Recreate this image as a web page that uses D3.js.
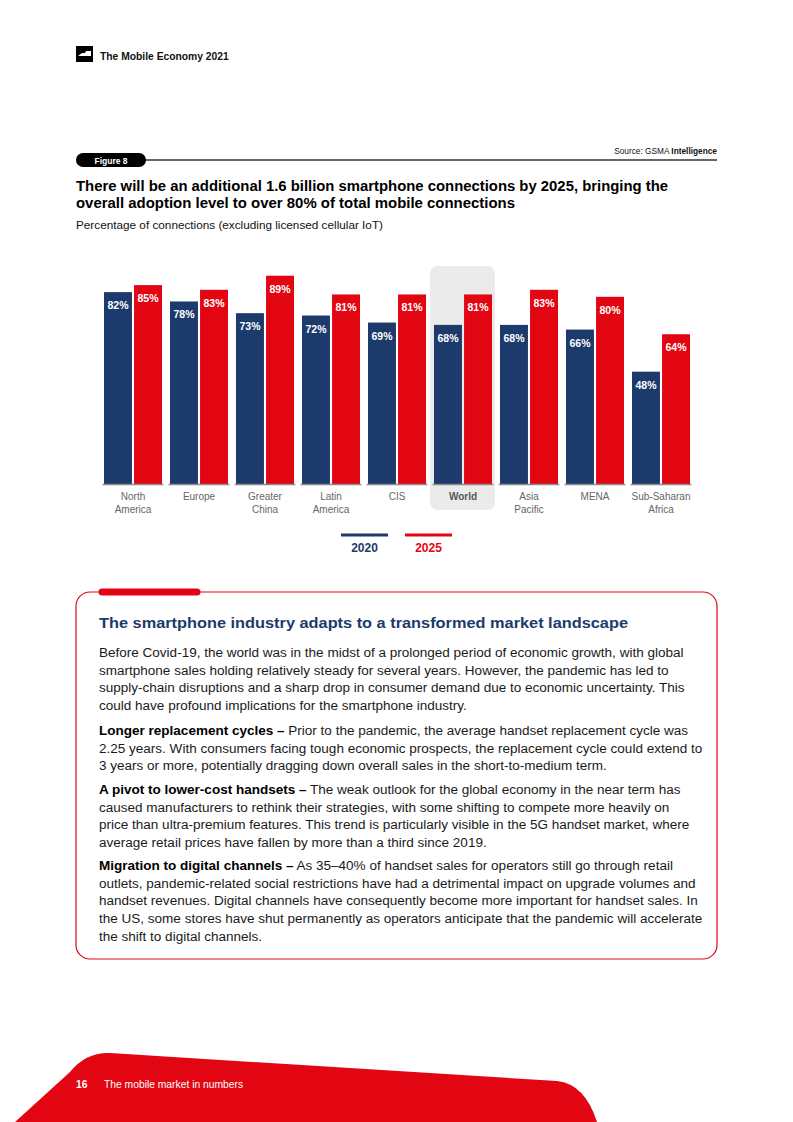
<!DOCTYPE html>
<html><head><meta charset="utf-8">
<script src="https://cdn.jsdelivr.net/npm/d3@7/dist/d3.min.js"></script>
<style>body{margin:0;background:#fff}svg{display:block}</style>
</head><body>
<svg id="c" width="793" height="1122"></svg>
<script>
const categories = ["North America","Europe","Greater China","Latin America","CIS","World","Asia Pacific","MENA","Sub-Saharan Africa"];
const categoryLines = [["North","America"],["Europe"],["Greater","China"],["Latin","America"],["CIS"],["World"],["Asia","Pacific"],["MENA"],["Sub-Saharan","Africa"]];
const series = ["2020","2025"];
const values2020 = [82,78,73,72,69,68,68,66,48];
const values2025 = [85,83,89,81,81,81,83,80,64];
const highlight = "World";

const BLUE = "#1c3a6b", RED = "#e20613";
const F = "'Liberation Sans', Arial, sans-serif";
const svg = d3.select("#c");

// header
svg.append("rect").attr("x",76).attr("y",46).attr("width",17).attr("height",16).attr("fill","#000");
svg.append("path").attr("d","M78,56 L82,53 L85,53 L86,51 L91,51 L91,56 Z").attr("fill","#fff");
svg.append("text").attr("x",100).attr("y",59.5).attr("font-family",F).attr("font-weight","bold")
  .attr("font-size",10.3).attr("fill","#111").text("The Mobile Economy 2021");

// figure pill + rule
svg.append("line").attr("x1",140).attr("x2",717).attr("y1",160).attr("y2",160).attr("stroke","#333").attr("stroke-width",1.5);
svg.append("rect").attr("x",76).attr("y",153).attr("width",70).attr("height",14).attr("rx",7).attr("fill","#000");
svg.append("text").attr("x",111).attr("y",163.5).attr("text-anchor","middle").attr("font-family",F)
  .attr("font-weight","bold").attr("font-size",8.5).attr("fill","#fff").text("Figure 8");
const src = svg.append("text").attr("x",717).attr("y",154).attr("text-anchor","end").attr("font-family",F)
  .attr("font-size",8.3).attr("fill","#111");
src.append("tspan").text("Source: GSMA ");
src.append("tspan").attr("font-weight","bold").text("Intelligence");

// title
function fitText(sel, w){ const L = sel.node().getComputedTextLength(); if (L > 0) sel.attr("textLength", w).attr("lengthAdjust","spacingAndGlyphs"); }
const t1 = svg.append("text").attr("x",76).attr("y",191).attr("font-family",F).attr("font-weight","bold")
  .attr("font-size",14).attr("fill","#000").text("There will be an additional 1.6 billion smartphone connections by 2025, bringing the");
fitText(t1, 592);
const t2 = svg.append("text").attr("x",76).attr("y",208).attr("font-family",F).attr("font-weight","bold")
  .attr("font-size",14).attr("fill","#000").text("overall adoption level to over 80% of total mobile connections");
fitText(t2, 439);
const st = svg.append("text").attr("x",76).attr("y",229).attr("font-family",F).attr("font-size",10)
  .attr("fill","#111").text("Percentage of connections (excluding licensed cellular IoT)");
fitText(st, 307);

// chart scales
const x0 = d3.scaleBand().domain(categories).range([100,694]).paddingInner(0.08).paddingOuter(0.04);
const x1 = d3.scaleBand().domain(series).range([0,x0.bandwidth()]).paddingInner(0.07).paddingOuter(0.045);
const y = d3.scaleLinear().domain([0,100]).range([484,250]);

// highlight background
svg.append("rect").attr("x",x0(highlight)-2.6).attr("y",266).attr("width",x0.step()-1).attr("height",244)
  .attr("rx",7).attr("fill","#ebebeb");

const data = categories.map((c,i)=>({cat:c, vals:[{s:"2020",v:values2020[i]},{s:"2025",v:values2025[i]}]}));
const g = svg.append("g");
const grp = g.selectAll("g.grp").data(data).join("g").attr("class","grp").attr("transform",d=>`translate(${x0(d.cat)},0)`);
grp.selectAll("rect").data(d=>d.vals).join("rect")
  .attr("x",d=>x1(d.s)).attr("width",x1.bandwidth())
  .attr("y",d=>y(d.v)).attr("height",d=>y(0)-y(d.v))
  .attr("fill",d=>d.s==="2020"?BLUE:RED);
grp.selectAll("text.v").data(d=>d.vals).join("text").attr("class","v")
  .attr("x",d=>x1(d.s)+x1.bandwidth()/2).attr("y",d=>y(d.v)+17)
  .attr("text-anchor","middle").attr("font-family",F).attr("font-weight","bold").attr("font-size",10.5)
  .attr("fill","#fff").text(d=>d.v+"%");
grp.append("line").attr("x1",0).attr("x2",x0.bandwidth()).attr("y1",y(0)+0.5).attr("y2",y(0)+0.5)
  .attr("stroke","#8a8a8a").attr("stroke-width",1.5);

// x labels
const xl = svg.append("g");
categories.forEach((c,i)=>{
  const t = xl.append("text").attr("text-anchor","middle").attr("font-family",F).attr("font-size",10)
    .attr("fill", c===highlight?"#555":"#666").attr("font-weight", c===highlight?"bold":"normal");
  categoryLines[i].forEach((ln,j)=>{
    t.append("tspan").attr("x",x0(c)+x0.bandwidth()/2).attr("y",500+j*13).text(ln);
  });
});

// legend
const leg = [{s:"2020",c:BLUE,x:341},{s:"2025",c:RED,x:405}];
leg.forEach(l=>{
  svg.append("line").attr("x1",l.x).attr("x2",l.x+47).attr("y1",535).attr("y2",535).attr("stroke",l.c).attr("stroke-width",3);
  svg.append("text").attr("x",l.x+23.5).attr("y",551.5).attr("text-anchor","middle").attr("font-family",F)
    .attr("font-weight","bold").attr("font-size",12).attr("fill",l.c).text(l.s);
});

// text box
svg.append("rect").attr("x",76).attr("y",592).attr("width",641).attr("height",367).attr("rx",14)
  .attr("fill","none").attr("stroke",RED).attr("stroke-width",1.2);
svg.append("line").attr("x1",102).attr("x2",197).attr("y1",592).attr("y2",592).attr("stroke",RED)
  .attr("stroke-width",7).attr("stroke-linecap","round");
const hd = svg.append("text").attr("x",99).attr("y",628).attr("font-family",F).attr("font-weight","bold")
  .attr("font-size",15).attr("fill",BLUE).text("The smartphone industry adapts to a transformed market landscape");
fitText(hd, 529);

const paragraphs = [
  {y:657, lines:[
    [null,"Before Covid-19, the world was in the midst of a prolonged period of economic growth, with global"],
    [null,"smartphone sales holding relatively steady for several years. However, the pandemic has led to"],
    [null,"supply-chain disruptions and a sharp drop in consumer demand due to economic uncertainty. This"],
    [null,"could have profound implications for the smartphone industry."]]},
  {y:735, lines:[
    ["Longer replacement cycles –"," Prior to the pandemic, the average handset replacement cycle was"],
    [null,"2.25 years. With consumers facing tough economic prospects, the replacement cycle could extend to"],
    [null,"3 years or more, potentially dragging down overall sales in the short-to-medium term."]]},
  {y:794, lines:[
    ["A pivot to lower-cost handsets –"," The weak outlook for the global economy in the near term has"],
    [null,"caused manufacturers to rethink their strategies, with some shifting to compete more heavily on"],
    [null,"price than ultra-premium features. This trend is particularly visible in the 5G handset market, where"],
    [null,"average retail prices have fallen by more than a third since 2019."]]},
  {y:870, lines:[
    ["Migration to digital channels –"," As 35–40% of handset sales for operators still go through retail"],
    [null,"outlets, pandemic-related social restrictions have had a detrimental impact on upgrade volumes and"],
    [null,"handset revenues. Digital channels have consequently become more important for handset sales. In"],
    [null,"the US, some stores have shut permanently as operators anticipate that the pandemic will accelerate"],
    [null,"the shift to digital channels."]]}
];
// choose font size so text width matches the reference column
const probe = svg.append("text").attr("font-family",F).attr("font-size",12).text(paragraphs[0].lines[0][1]);
const fs = 12*585/probe.node().getComputedTextLength();
probe.remove();
paragraphs.forEach(p=>{
  p.lines.forEach((ln,i)=>{
    const t = svg.append("text").attr("x",99).attr("y",p.y+i*17.7).attr("font-family",F).attr("font-size",fs).attr("fill","#1a1a1a");
    if (ln[0]) t.append("tspan").attr("font-weight","bold").attr("fill","#000").text(ln[0]);
    t.append("tspan").text(ln[1]);
  });
});

// footer
svg.append("path").attr("d","M15,1122 L70,1072 Q86,1052 110,1053 L557,1081 Q585,1084 597,1122 Z").attr("fill",RED);
svg.append("text").attr("x",76).attr("y",1088).attr("font-family",F).attr("font-weight","bold").attr("font-size",10.3)
  .attr("fill","#fff").text("16");
svg.append("text").attr("x",104).attr("y",1088).attr("font-family",F).attr("font-size",10.3)
  .attr("fill","#fff").text("The mobile market in numbers");
</script>
</body></html>
